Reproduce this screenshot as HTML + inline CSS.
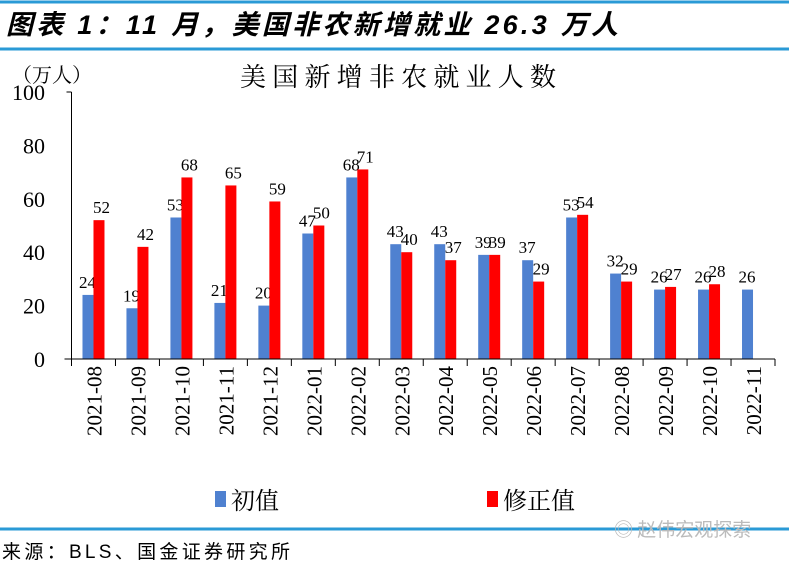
<!DOCTYPE html>
<html><head><meta charset="utf-8"><style>
body{margin:0;background:#fff;}
svg{display:block;font-family:"Liberation Serif","Noto Serif CJK SC",serif;}
</style></head><body>
<svg width="789" height="566">
<line x1="0" y1="2" x2="789" y2="2" stroke="#2a9ad6" stroke-width="3"/>
<text x="6" y="34" font-family="Liberation Sans,'Noto Sans CJK SC',sans-serif" font-size="27" font-weight="bold" font-style="italic" textLength="612" lengthAdjust="spacing">图表 1：11 月，美国非农新增就业 26.3 万人</text>
<line x1="0" y1="49" x2="789" y2="49" stroke="#2a9ad6" stroke-width="3"/>
<text x="12" y="82" font-size="20" font-family="'Noto Serif CJK SC',serif">（万人）</text>
<text x="240" y="86" font-size="26" font-family="'Noto Serif CJK SC',serif" textLength="316" lengthAdjust="spacing">美国新增非农就业人数</text>
<g id="plot"></g>
<rect x="215" y="491" width="11" height="16" fill="#4f81d0"/>
<text x="231" y="509" font-size="24" font-family="'Noto Serif CJK SC',serif">初值</text>
<rect x="487" y="491" width="11" height="16" fill="#ff0000"/>
<text x="503" y="509" font-size="24" font-family="'Noto Serif CJK SC',serif">修正值</text>
<line x1="0" y1="529" x2="789" y2="529" stroke="#2a9ad6" stroke-width="3"/>
<text x="614" y="536" font-size="19" fill="#bbb" font-family="'Noto Sans CJK SC',sans-serif">◎ 赵伟宏观探索</text>
<text x="2" y="558" font-size="19" font-family="Liberation Sans,'Noto Sans CJK SC',sans-serif" textLength="288" lengthAdjust="spacing">来源：BLS、国金证券研究所</text>
</svg>
<script>
const categories=["2021-08","2021-09","2021-10","2021-11","2021-12","2022-01","2022-02","2022-03","2022-04","2022-05","2022-06","2022-07","2022-08","2022-09","2022-10","2022-11"];
const initialValues=[24,19,53,21,20,47,68,43,43,39,37,53,32,26,26,26];
const revisedValues=[52,42,68,65,59,50,71,40,37,39,29,54,29,27,28,null];
const yTicks=[0,20,40,60,80,100];
const NS="http://www.w3.org/2000/svg";
const g=document.getElementById('plot');
const x0=71.5,x1=775,y0=359,y1=92;
const step=(x1-x0)/categories.length;
const yScale=v=>y0-(v/100)*(y0-y1);
const xCenter=i=>x0+step*(i+0.5);
function mk(t,a){const e=document.createElementNS(NS,t);for(const k in a)e.setAttribute(k,a[k]);g.appendChild(e);return e;}
yTicks.forEach(v=>{
 const t=mk('text',{x:45,y:yScale(v)+8,'font-size':22,'text-anchor':'end'});t.textContent=v;
 
 
});
categories.forEach((c,i)=>{
 const cx=xCenter(i);
 const iv=initialValues[i];
 const b=mk('rect',{x:cx-11,y:yScale(iv),width:11,height:y0-yScale(iv),fill:'#4f81d0'});
 
 
 const lt=mk('text',{x:cx-6,y:yScale(iv)-7,'font-size':17,'text-anchor':'middle'});lt.textContent=iv;
 
 
 const rv=revisedValues[i];
 if(rv!=null){
  const r=mk('rect',{x:cx,y:yScale(rv),width:11,height:y0-yScale(rv),fill:'#ff0000'});
  
  
  const rt=mk('text',{x:cx+8,y:yScale(rv)-7,'font-size':17,'text-anchor':'middle'});rt.textContent=rv;
  
  
 }
 const xl=mk('text',{x:0,y:0,'font-size':21,'text-anchor':'end',transform:`translate(${cx+8},${366}) rotate(-90)`});xl.textContent=c;
 
 
});
for(let i=0;i<=categories.length;i++){
 const t=mk('line',{x1:x0+step*i,x2:x0+step*i,y1:y0,y2:y0+7,stroke:'#000','stroke-width':1});
 
 
}
const ya=mk('line',{x1:x0,x2:x0,y1:y1,y2:y0,stroke:'#000','stroke-width':1});


const yt=mk('line',{x1:x0-5,x2:x0,y1:y1,y2:y1,stroke:'#000','stroke-width':1});


const xa=mk('line',{x1:x0-7,x2:x1,y1:y0,y2:y0,stroke:'#000','stroke-width':1});


</script>
</body></html>
